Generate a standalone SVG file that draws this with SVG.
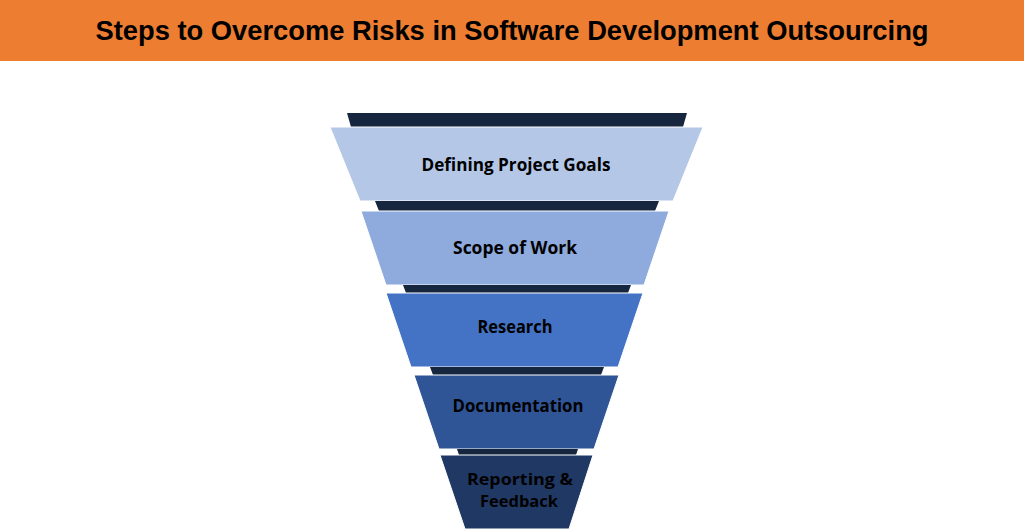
<svg xmlns="http://www.w3.org/2000/svg" width="1024" height="529" viewBox="0 0 1024 529">
<style>
.lbl{font-family:"Open Sans","Liberation Sans",sans-serif;font-weight:700;font-size:18.5px;fill:#000;text-anchor:middle}
.lbl2{font-family:"Open Sans","Liberation Sans",sans-serif;font-weight:700;font-size:16.5px;fill:#000;text-anchor:middle}
.band{fill:#17263F}
.seg{stroke:#ffffff;stroke-width:1}
</style>
<rect x="0" y="0" width="1024" height="529" fill="#ffffff"/>
<g id="title">
<rect x="0" y="0" width="1024" height="61" fill="#ED7D31"/>
<text x="512" y="40" font-family="Liberation Sans, Arial, sans-serif" font-weight="700" font-size="28" text-anchor="middle" textLength="833" lengthAdjust="spacingAndGlyphs" fill="#000">Steps to Overcome Risks in Software Development Outsourcing</text>
</g>
<g id="step1">
<polygon class="band" points="347,113 687,113 683,127 351,127"/>
<polygon class="seg" fill="#B4C7E7" points="330,127 703,127 673,201 360,201"/>
<text class="lbl" x="516" y="171" textLength="189" lengthAdjust="spacingAndGlyphs">Defining Project Goals</text>
</g>
<g id="step2">
<polygon class="band" points="375,201 659,201 655,211 379,211"/>
<polygon class="seg" fill="#8FAADC" points="361,211 669,211 644,285 386,285"/>
<text class="lbl" x="515" y="254" textLength="124" lengthAdjust="spacingAndGlyphs">Scope of Work</text>
</g>
<g id="step3">
<polygon class="band" points="403,285 631,285 628,293 406,293"/>
<polygon class="seg" fill="#4472C4" points="386,293 643,293 618,367 411,367"/>
<text class="lbl" x="515" y="333" textLength="75" lengthAdjust="spacingAndGlyphs">Research</text>
</g>
<g id="step4">
<polygon class="band" points="430,367 604,367 601,375 433,375"/>
<polygon class="seg" fill="#2F5597" points="414,375 619,375 594,449 439,449"/>
<text class="lbl" x="518" y="412" textLength="131" lengthAdjust="spacingAndGlyphs">Documentation</text>
</g>
<g id="step5">
<polygon class="band" points="457,449 578,449 576,455 459,455"/>
<polygon class="seg" fill="#203864" points="440,455 593,455 569,529 465,529"/>
<text class="lbl2" x="520" y="485" textLength="106" lengthAdjust="spacingAndGlyphs">Reporting &amp;</text>
<text class="lbl2" x="519" y="507" textLength="78" lengthAdjust="spacingAndGlyphs">Feedback</text>
</g>
<g id="connectors"></g>
</svg>
